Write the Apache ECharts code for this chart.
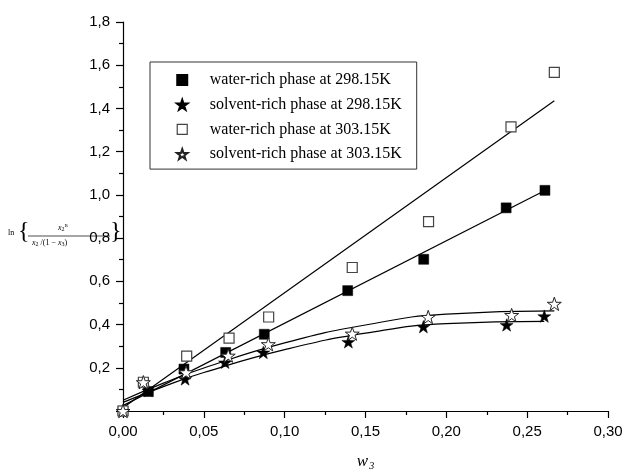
<!DOCTYPE html>
<html>
<head>
<meta charset="utf-8">
<script src="https://cdn.jsdelivr.net/npm/echarts@6/dist/echarts.min.js"></script>
<style>
  html, body { margin: 0; padding: 0; background: #fff; }
  #chart { width: 627px; height: 476px; }
</style>
</head>
<body>
<div id="chart"></div>
<script>
// measured points
const wFilledX = [0, 0.0157, 0.0377, 0.0635, 0.0874, 0.139, 0.186, 0.237, 0.261]
const wFilledY = [0, 0.090, 0.194, 0.271, 0.355, 0.557, 0.702, 0.940, 1.021]
const sFilledX = [0, 0.0157, 0.0384, 0.0631, 0.0868, 0.1394, 0.1858, 0.2373, 0.2606]
const sFilledY = [0, 0.095, 0.148, 0.225, 0.271, 0.320, 0.390, 0.398, 0.439]
const wOpenX = [0, 0.0126, 0.0394, 0.0656, 0.0901, 0.1418, 0.189, 0.240, 0.2668]
const wOpenY = [0, 0.133, 0.254, 0.337, 0.435, 0.664, 0.876, 1.315, 1.567]
const sOpenX = [0, 0.0126, 0.039, 0.0651, 0.0899, 0.1418, 0.1888, 0.2404, 0.2668]
const sOpenY = [0, 0.133, 0.179, 0.256, 0.309, 0.358, 0.435, 0.444, 0.496]

// fitted curves
const fitWFilledX = [0, 0.261]
const fitWFilledY = [0.025, 1.02]
const fitWOpenX = [0, 0.2668]
const fitWOpenY = [0.015, 1.436]
const fitSFilledX = [0, 0.025, 0.05, 0.10, 0.15, 0.20, 0.2606]
const fitSFilledY = [0.04, 0.113, 0.178, 0.284, 0.360, 0.404, 0.415]
const fitSOpenX = [0, 0.025, 0.05, 0.10, 0.15, 0.20, 0.2668]
const fitSOpenY = [0.05, 0.129, 0.199, 0.315, 0.398, 0.448, 0.463]

const names = [
  'water-rich phase at 298.15K',
  'solvent-rich phase at 298.15K',
  'water-rich phase at 303.15K',
  'solvent-rich phase at 303.15K'
]

const star = 'path://M50,0 L61.8,35.1 L97.6,35.1 L68.8,56.7 L79.4,90.9 L50,69.5 L20.6,90.9 L31.2,56.7 L2.4,35.1 L38.2,35.1 Z'
const square = 'path://M0,0 L10,0 L10,10 L0,10 Z'

const zip = (xs, ys) => xs.map((x, i) => [x, ys[i]])

const fitLine = (xs, ys, smooth) => ({
  type: 'line',
  data: zip(xs, ys),
  showSymbol: false,
  symbol: 'none',
  smooth: smooth,
  silent: true,
  z: 1,
  lineStyle: { color: '#000', width: 1.2 }
})

const sub = { font: '6px "Liberation Serif"', verticalAlign: 'bottom', padding: [3, 0, 0, 0] }

const chart = echarts.init(document.getElementById('chart'))
chart.setOption({
  backgroundColor: '#fff',
  animation: false,
  grid: { left: 123, right: 19, top: 22, bottom: 62 },
  xAxis: {
    type: 'value',
    min: 0,
    max: 0.3,
    interval: 0.05,
    name: '{w|w}{s|3}',
    nameLocation: 'middle',
    nameGap: 42,
    nameTextStyle: {
      rich: {
        w: { fontFamily: 'Liberation Serif', fontStyle: 'italic', fontSize: 17, color: '#000' },
        s: { fontFamily: 'Liberation Serif', fontStyle: 'italic', fontSize: 10, color: '#000', verticalAlign: 'bottom', padding: [8, 0, 0, 1] }
      }
    },
    axisLine: { lineStyle: { color: '#000', width: 1.2 } },
    axisTick: { inside: false, length: 7, lineStyle: { color: '#000', width: 1.2 } },
    minorTick: { show: true, splitNumber: 2, length: 4, lineStyle: { color: '#000', width: 1.2 } },
    splitLine: { show: false },
    axisLabel: {
      margin: 13,
      fontFamily: 'Liberation Sans',
      fontSize: 15,
      color: '#000',
      formatter: v => v.toFixed(2).replace('.', ',')
    }
  },
  yAxis: {
    type: 'value',
    min: 0,
    max: 1.8,
    interval: 0.2,
    axisLine: { lineStyle: { color: '#000', width: 1.2 } },
    axisTick: { inside: false, length: 7, lineStyle: { color: '#000', width: 1.2 } },
    minorTick: { show: true, splitNumber: 2, length: 4, lineStyle: { color: '#000', width: 1.2 } },
    splitLine: { show: false },
    axisLabel: {
      margin: 13,
      showMinLabel: false,
      fontFamily: 'Liberation Sans',
      fontSize: 15,
      color: '#000',
      formatter: v => v.toFixed(1).replace('.', ',')
    }
  },
  legend: {
    orient: 'vertical',
    left: 150,
    top: 62,
    padding: [10, 15, 7, 26],
    itemWidth: 45,
    itemHeight: 10,
    itemGap: 8.7,
    borderColor: '#333',
    borderWidth: 1,
    textStyle: { fontFamily: 'Liberation Serif', fontSize: 16, color: '#000' },
    data: [
      { name: names[0], icon: square, itemStyle: { color: '#000' } },
      { name: names[1], icon: star },
      { name: names[2], icon: square, itemStyle: { color: '#fff', borderColor: '#444', borderWidth: 1.2 } },
      { name: names[3], icon: star }
    ]
  },
  graphic: [
    { type: 'text', left: 8, top: 229, style: { text: 'ln', font: '8px "Liberation Serif"', fill: '#000' } },
    { type: 'text', left: 18, top: 220, style: { text: '{', font: '24px "Liberation Serif"', fill: '#000' } },
    { type: 'text', left: 58, top: 223, style: { text: '{x|x}{s|2}{b|B}', fill: '#000',
      rich: {
        x: { font: 'italic 8px "Liberation Serif"' },
        s: sub,
        b: { font: '5px "Liberation Serif"', verticalAlign: 'top', padding: [0, 0, 4, 0] }
      } } },
    { type: 'line', shape: { x1: 28, y1: 236, x2: 110, y2: 236 }, style: { stroke: '#000', lineWidth: 0.7 } },
    { type: 'text', left: 32, top: 239, style: { text: '{x|x}{s|2}{t| /(1 − }{x|x}{s|3}{t|)}', fill: '#000',
      rich: {
        x: { font: 'italic 8px "Liberation Serif"' },
        s: sub,
        t: { font: '8px "Liberation Serif"' }
      } } },
    { type: 'text', left: 110, top: 220, style: { text: '}', font: '24px "Liberation Serif"', fill: '#000' } }
  ],
  series: [
    fitLine(fitWFilledX, fitWFilledY, false),
    fitLine(fitWOpenX, fitWOpenY, false),
    fitLine(fitSFilledX, fitSFilledY, true),
    fitLine(fitSOpenX, fitSOpenY, true),
    {
      name: names[1],
      type: 'scatter',
      data: zip(sFilledX, sFilledY),
      symbol: star,
      symbolSize: 13,
      symbolKeepAspect: true,
      clip: false,
      z: 3,
      itemStyle: { color: '#000', borderColor: '#000', borderWidth: 0.5, opacity: 1 }
    },
    {
      name: names[0],
      type: 'scatter',
      data: zip(wFilledX, wFilledY),
      symbol: 'rect',
      symbolSize: 10,
      clip: false,
      z: 4,
      itemStyle: { color: '#000', borderColor: '#000', borderWidth: 0.5, opacity: 1 }
    },
    {
      name: names[2],
      type: 'scatter',
      data: zip(wOpenX, wOpenY),
      symbol: 'rect',
      symbolSize: 10,
      clip: false,
      z: 5,
      itemStyle: { color: '#fff', borderColor: '#444', borderWidth: 1.2, opacity: 1 }
    },
    {
      name: names[3],
      type: 'scatter',
      data: zip(sOpenX, sOpenY),
      symbol: star,
      symbolSize: 14,
      symbolKeepAspect: true,
      clip: false,
      z: 6,
      itemStyle: { color: '#fff', borderColor: '#222', borderWidth: 1, opacity: 1 }
    }
  ]
})
</script>
</body>
</html>
